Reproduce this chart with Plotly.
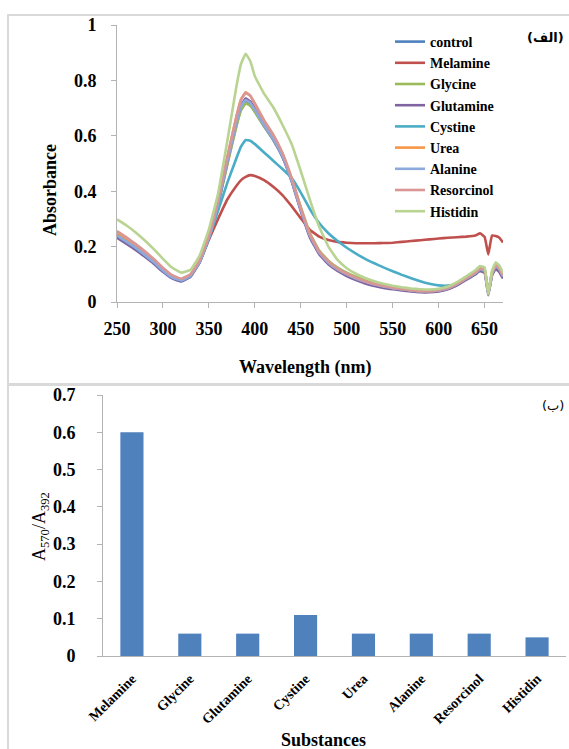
import plotly.graph_objects as go

wl = [250,260,270,280,290,300,310,320,330,340,350,360,370,380,385,390,395,400,410,420,430,440,450,460,470,480,490,500,510,520,530,540,550,560,570,580,590,600,610,620,630,640,645,650,654,658,662,666,670]

control = [.235,.214,.192,.167,.141,.112,.088,.077,.094,.145,.232,.352,.500,.640,.698,.722,.712,.688,.634,.585,.524,.438,.332,.238,.177,.141,.117,.099,.084,.072,.062,.055,.050,.045,.041,.038,.038,.041,.049,.064,.084,.104,.118,.112,.030,.100,.130,.118,.092]
melamine = [.245,.223,.199,.173,.146,.116,.091,.080,.097,.146,.225,.300,.370,.420,.440,.452,.458,.455,.440,.416,.386,.346,.302,.260,.236,.224,.217,.214,.212,.212,.212,.213,.214,.217,.220,.223,.226,.229,.232,.234,.236,.240,.248,.235,.172,.240,.238,.232,.215]
glycine = [.245,.224,.201,.176,.149,.119,.094,.082,.098,.147,.232,.350,.496,.635,.692,.717,.708,.686,.634,.587,.528,.445,.342,.248,.186,.149,.124,.106,.091,.078,.068,.060,.055,.050,.046,.043,.042,.045,.053,.068,.088,.110,.125,.120,.035,.108,.138,.128,.100]
glutamine = [.232,.211,.189,.164,.138,.109,.085,.074,.091,.143,.230,.354,.507,.652,.710,.735,.724,.698,.640,.588,.525,.436,.328,.232,.172,.136,.112,.094,.079,.067,.058,.051,.046,.042,.038,.035,.035,.038,.046,.060,.080,.100,.112,.105,.025,.095,.120,.108,.085]
cystine = [.240,.219,.196,.171,.144,.114,.089,.078,.095,.145,.230,.330,.430,.520,.562,.585,.582,.570,.540,.510,.480,.448,.395,.335,.285,.248,.220,.196,.175,.156,.140,.125,.111,.098,.086,.075,.066,.060,.059,.066,.084,.104,.118,.112,.030,.100,.130,.118,.092]
urea = [.250,.229,.206,.180,.152,.121,.095,.082,.098,.148,.237,.364,.522,.670,.732,.757,.745,.716,.655,.602,.536,.445,.337,.241,.180,.144,.119,.101,.086,.074,.064,.057,.051,.046,.042,.039,.039,.042,.050,.065,.085,.106,.120,.114,.032,.102,.132,.120,.094]
alanine = [.240,.219,.197,.171,.144,.114,.089,.078,.095,.146,.233,.356,.507,.648,.706,.729,.719,.694,.638,.588,.526,.439,.333,.239,.178,.142,.118,.100,.085,.073,.063,.056,.050,.046,.042,.039,.039,.042,.050,.065,.085,.105,.119,.113,.031,.101,.131,.119,.093]
resorcinol = [.256,.234,.210,.184,.155,.124,.097,.084,.100,.151,.241,.367,.523,.670,.730,.755,.744,.716,.656,.604,.538,.448,.340,.244,.182,.146,.121,.103,.088,.075,.065,.058,.052,.047,.043,.040,.040,.043,.051,.066,.086,.107,.121,.115,.033,.103,.133,.121,.095]
histidin = [.298,.277,.252,.223,.191,.156,.124,.106,.116,.168,.262,.392,.580,.780,.860,.896,.870,.815,.752,.703,.640,.570,.472,.368,.272,.200,.152,.122,.102,.087,.075,.066,.059,.053,.049,.046,.045,.048,.056,.072,.093,.115,.130,.125,.028,.112,.143,.132,.105]

series_names = ["control","Melamine","Glycine","Glutamine","Cystine","Urea","Alanine","Resorcinol","Histidin"]
series_vals = [control, melamine, glycine, glutamine, cystine, urea, alanine, resorcinol, histidin]
series_colors = ["#4F81BD","#C0504D","#9BBB59","#8064A2","#4BACC6","#F79646","#8EA9DB","#D99694","#B9D492"]

bar_cats = ["Melamine","Glycine","Glutamine","Cystine","Urea","Alanine","Resorcinol","Histidin"]
bar_vals = [0.60,0.06,0.06,0.11,0.06,0.06,0.06,0.05]

W, H = 569, 749
def px(x): return x / W
def py(y): return 1 - y / H

SERIF = "Liberation Serif"
AX = "#B3B3B3"

fig = go.Figure()
for n, v, c in zip(series_names, series_vals, series_colors):
    fig.add_trace(go.Scatter(x=wl, y=v, name=n, mode="lines",
                             line=dict(color=c, width=2.6, shape="spline", smoothing=0.3),
                             xaxis="x", yaxis="y"))

fig.add_trace(go.Bar(x=bar_cats, y=bar_vals, marker=dict(color="#4F81BD", line=dict(width=0)),
                     width=0.4, showlegend=False, xaxis="x2", yaxis="y2"))

fig.update_layout(
    width=W, height=H,
    margin=dict(l=0, r=0, t=0, b=0, pad=0, autoexpand=False),
    paper_bgcolor="white", plot_bgcolor="white",
    showlegend=True,
    legend=dict(x=px(390), y=py(26), xanchor="left", yanchor="top",
                font=dict(family=SERIF, size=14, color="black", weight="bold"),
                bgcolor="rgba(0,0,0,0)", itemwidth=30, tracegroupgap=0),
    xaxis=dict(domain=[px(117), px(503)], range=[250, 670], tickmode="array",
               tickvals=[250,300,350,400,450,500,550,600,650],
               showline=True, linecolor=AX, linewidth=1, ticks="outside", ticklen=5, tickcolor=AX,
               showgrid=False, zeroline=False, anchor="y", ticklabelstandoff=5,
               tickfont=dict(family=SERIF, size=18, color="black", weight="bold")),
    yaxis=dict(domain=[py(302), py(25)], range=[0, 1], tickmode="array",
               tickvals=[0,0.2,0.4,0.6,0.8,1], ticktext=["0","0.2","0.4","0.6","0.8","1"],
               showline=True, linecolor=AX, linewidth=1, ticks="outside", ticklen=5, tickcolor=AX,
               showgrid=False, zeroline=False, anchor="x", ticklabelstandoff=11,
               tickfont=dict(family=SERIF, size=18, color="black", weight="bold")),
    xaxis2=dict(domain=[px(103), px(566)], range=[-0.5, 7.5], type="category",
                showline=True, linecolor=AX, linewidth=1, ticks="", showgrid=False,
                zeroline=False, anchor="y2", tickangle=-45, ticklabelstandoff=8,
                tickfont=dict(family=SERIF, size=14, color="black", weight="bold")),
    yaxis2=dict(domain=[py(656), py(395)], range=[0, 0.7], tickmode="array",
                tickvals=[0,0.1,0.2,0.3,0.4,0.5,0.6,0.7],
                ticktext=["0","0.1","0.2","0.3","0.4","0.5","0.6","0.7"],
                showline=True, linecolor=AX, linewidth=1, ticks="outside", ticklen=5, tickcolor=AX,
                showgrid=False, zeroline=False, anchor="x2", ticklabelstandoff=18,
                tickfont=dict(family=SERIF, size=18, color="black", weight="bold")),
)

shapes = [
    dict(type="rect", xref="paper", yref="paper", x0=px(8), x1=px(575), y0=py(384), y1=py(15),
         line=dict(color="#D9D9D9", width=2), fillcolor="rgba(0,0,0,0)", layer="below"),
    dict(type="rect", xref="paper", yref="paper", x0=px(8), x1=px(575), y0=py(760), y1=py(385),
         line=dict(color="#D9D9D9", width=2), fillcolor="rgba(0,0,0,0)", layer="below"),
]
fig.update_layout(shapes=shapes)

ann = [
    dict(text="Wavelength (nm)", x=px(305), y=py(367), font=dict(family=SERIF, size=18, color="black", weight="bold")),
    dict(text="Absorbance", x=px(50), y=py(190), textangle=-90, font=dict(family=SERIF, size=18, color="black", weight="bold")),
    dict(text="Substances", x=px(323), y=py(740), font=dict(family=SERIF, size=18, color="black", weight="bold")),
    dict(text="A<sub>570</sub>/A<sub>392</sub>", x=px(40), y=py(527), textangle=-90, font=dict(family=SERIF, size=18, color="black")),
    dict(text="\u200e(الف)\u200e", x=px(545), y=py(38), font=dict(family="DejaVu Sans", size=13, color="black", weight="bold")),
    dict(text="\u200e(ب)\u200e", x=px(553), y=py(405), font=dict(family="DejaVu Sans", size=13, color="black")),
]
for a in ann:
    a.update(xref="paper", yref="paper", showarrow=False, xanchor="center", yanchor="middle")
fig.update_layout(annotations=ann)

fig.write_html("out.html")
